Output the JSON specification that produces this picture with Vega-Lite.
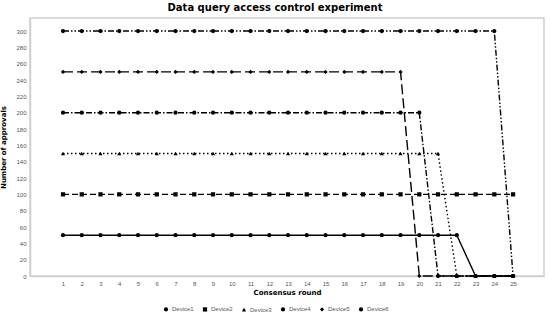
{
  "$schema": "https://vega.github.io/schema/vega-lite/v6.json",
  "autosize": {"type": "none"},
  "padding": {"left": 30, "top": 18, "right": 6, "bottom": 41},
  "width": 514,
  "height": 258,
  "title": {"text": "Data query access control experiment", "font": "DejaVu Sans", "fontSize": 10, "fontWeight": "bold", "color": "#000", "anchor": "middle", "dx": -12, "offset": 5},
  "config": {
    "font": "DejaVu Sans",
    "view": {"stroke": "#cfcfcf", "strokeWidth": 1.5}
  },
  "data": {"values": [
    {"d":"Device1","r":1,"v":50},{"d":"Device1","r":2,"v":50},{"d":"Device1","r":3,"v":50},{"d":"Device1","r":4,"v":50},{"d":"Device1","r":5,"v":50},{"d":"Device1","r":6,"v":50},{"d":"Device1","r":7,"v":50},{"d":"Device1","r":8,"v":50},{"d":"Device1","r":9,"v":50},{"d":"Device1","r":10,"v":50},{"d":"Device1","r":11,"v":50},{"d":"Device1","r":12,"v":50},{"d":"Device1","r":13,"v":50},{"d":"Device1","r":14,"v":50},{"d":"Device1","r":15,"v":50},{"d":"Device1","r":16,"v":50},{"d":"Device1","r":17,"v":50},{"d":"Device1","r":18,"v":50},{"d":"Device1","r":19,"v":50},{"d":"Device1","r":20,"v":50},{"d":"Device1","r":21,"v":50},{"d":"Device1","r":22,"v":50},{"d":"Device1","r":23,"v":0},{"d":"Device1","r":24,"v":0},{"d":"Device1","r":25,"v":0},
    {"d":"Device2","r":1,"v":100},{"d":"Device2","r":2,"v":100},{"d":"Device2","r":3,"v":100},{"d":"Device2","r":4,"v":100},{"d":"Device2","r":5,"v":100},{"d":"Device2","r":6,"v":100},{"d":"Device2","r":7,"v":100},{"d":"Device2","r":8,"v":100},{"d":"Device2","r":9,"v":100},{"d":"Device2","r":10,"v":100},{"d":"Device2","r":11,"v":100},{"d":"Device2","r":12,"v":100},{"d":"Device2","r":13,"v":100},{"d":"Device2","r":14,"v":100},{"d":"Device2","r":15,"v":100},{"d":"Device2","r":16,"v":100},{"d":"Device2","r":17,"v":100},{"d":"Device2","r":18,"v":100},{"d":"Device2","r":19,"v":100},{"d":"Device2","r":20,"v":100},{"d":"Device2","r":21,"v":100},{"d":"Device2","r":22,"v":100},{"d":"Device2","r":23,"v":100},{"d":"Device2","r":24,"v":100},{"d":"Device2","r":25,"v":100},
    {"d":"Device3","r":1,"v":150},{"d":"Device3","r":2,"v":150},{"d":"Device3","r":3,"v":150},{"d":"Device3","r":4,"v":150},{"d":"Device3","r":5,"v":150},{"d":"Device3","r":6,"v":150},{"d":"Device3","r":7,"v":150},{"d":"Device3","r":8,"v":150},{"d":"Device3","r":9,"v":150},{"d":"Device3","r":10,"v":150},{"d":"Device3","r":11,"v":150},{"d":"Device3","r":12,"v":150},{"d":"Device3","r":13,"v":150},{"d":"Device3","r":14,"v":150},{"d":"Device3","r":15,"v":150},{"d":"Device3","r":16,"v":150},{"d":"Device3","r":17,"v":150},{"d":"Device3","r":18,"v":150},{"d":"Device3","r":19,"v":150},{"d":"Device3","r":20,"v":150},{"d":"Device3","r":21,"v":150},{"d":"Device3","r":22,"v":0},{"d":"Device3","r":23,"v":0},{"d":"Device3","r":24,"v":0},{"d":"Device3","r":25,"v":0},
    {"d":"Device4","r":1,"v":200},{"d":"Device4","r":2,"v":200},{"d":"Device4","r":3,"v":200},{"d":"Device4","r":4,"v":200},{"d":"Device4","r":5,"v":200},{"d":"Device4","r":6,"v":200},{"d":"Device4","r":7,"v":200},{"d":"Device4","r":8,"v":200},{"d":"Device4","r":9,"v":200},{"d":"Device4","r":10,"v":200},{"d":"Device4","r":11,"v":200},{"d":"Device4","r":12,"v":200},{"d":"Device4","r":13,"v":200},{"d":"Device4","r":14,"v":200},{"d":"Device4","r":15,"v":200},{"d":"Device4","r":16,"v":200},{"d":"Device4","r":17,"v":200},{"d":"Device4","r":18,"v":200},{"d":"Device4","r":19,"v":200},{"d":"Device4","r":20,"v":200},{"d":"Device4","r":21,"v":0},{"d":"Device4","r":22,"v":0},{"d":"Device4","r":23,"v":0},{"d":"Device4","r":24,"v":0},{"d":"Device4","r":25,"v":0},
    {"d":"Device5","r":1,"v":250},{"d":"Device5","r":2,"v":250},{"d":"Device5","r":3,"v":250},{"d":"Device5","r":4,"v":250},{"d":"Device5","r":5,"v":250},{"d":"Device5","r":6,"v":250},{"d":"Device5","r":7,"v":250},{"d":"Device5","r":8,"v":250},{"d":"Device5","r":9,"v":250},{"d":"Device5","r":10,"v":250},{"d":"Device5","r":11,"v":250},{"d":"Device5","r":12,"v":250},{"d":"Device5","r":13,"v":250},{"d":"Device5","r":14,"v":250},{"d":"Device5","r":15,"v":250},{"d":"Device5","r":16,"v":250},{"d":"Device5","r":17,"v":250},{"d":"Device5","r":18,"v":250},{"d":"Device5","r":19,"v":250},{"d":"Device5","r":20,"v":0},{"d":"Device5","r":21,"v":0},{"d":"Device5","r":22,"v":0},{"d":"Device5","r":23,"v":0},{"d":"Device5","r":24,"v":0},{"d":"Device5","r":25,"v":0},
    {"d":"Device6","r":1,"v":300},{"d":"Device6","r":2,"v":300},{"d":"Device6","r":3,"v":300},{"d":"Device6","r":4,"v":300},{"d":"Device6","r":5,"v":300},{"d":"Device6","r":6,"v":300},{"d":"Device6","r":7,"v":300},{"d":"Device6","r":8,"v":300},{"d":"Device6","r":9,"v":300},{"d":"Device6","r":10,"v":300},{"d":"Device6","r":11,"v":300},{"d":"Device6","r":12,"v":300},{"d":"Device6","r":13,"v":300},{"d":"Device6","r":14,"v":300},{"d":"Device6","r":15,"v":300},{"d":"Device6","r":16,"v":300},{"d":"Device6","r":17,"v":300},{"d":"Device6","r":18,"v":300},{"d":"Device6","r":19,"v":300},{"d":"Device6","r":20,"v":300},{"d":"Device6","r":21,"v":300},{"d":"Device6","r":22,"v":300},{"d":"Device6","r":23,"v":300},{"d":"Device6","r":24,"v":300},{"d":"Device6","r":25,"v":0}
  ]},
  "mark": {"type": "line", "color": "#000", "strokeWidth": 1.4, "point": {"filled": true, "color": "#000", "size": 18}},
  "encoding": {
    "x": {"field": "r", "type": "quantitative",
      "scale": {"domain": [-0.76, 26.65], "nice": false, "zero": false},
      "axis": {"values": [1,2,3,4,5,6,7,8,9,10,11,12,13,14,15,16,17,18,19,20,21,22,23,24,25], "grid": false, "ticks": false, "domainColor": "#cfcfcf", "domainWidth": 1.5, "labelFont": "Liberation Sans", "labelFontSize": 6, "labelColor": "#555", "labelPadding": 4, "title": "Consensus round", "titleFontSize": 7, "titleFontWeight": "bold", "titleColor": "#000", "titlePadding": 2}},
    "y": {"field": "v", "type": "quantitative",
      "scale": {"domain": [0, 316], "nice": false},
      "axis": {"values": [0,20,40,60,80,100,120,140,160,180,200,220,240,260,280,300], "grid": false, "ticks": false, "domainColor": "#cfcfcf", "domainWidth": 1.5, "labelFont": "Liberation Sans", "labelFontSize": 6, "labelColor": "#555", "labelPadding": 4, "title": "Number of approvals", "titleFontSize": 7, "titleFontWeight": "bold", "titleColor": "#000", "titlePadding": 9}},
    "strokeDash": {"field": "d", "type": "nominal",
      "scale": {"domain": ["Device1","Device2","Device3","Device4","Device5","Device6"], "range": [[1,0],[6,3],[1.5,2.5],[6,2,1.5,2],[10,4],[6,2,1.5,2,1.5,2]]},
      "legend": {"title": null, "orient": "none", "legendX": 133, "legendY": 288, "direction": "horizontal", "labelFont": "Liberation Sans", "labelFontSize": 6, "labelColor": "#555", "symbolSize": 18, "symbolStrokeColor": "#000", "symbolFillColor": "#000", "columnPadding": 5, "labelOffset": 3}},
    "shape": {"field": "d", "type": "nominal",
      "scale": {"domain": ["Device1","Device2","Device3","Device4","Device5","Device6"], "range": ["circle","square","triangle-up","circle","diamond","circle"]},
      "legend": {"title": null, "orient": "none", "legendX": 133, "legendY": 288, "direction": "horizontal", "labelFont": "Liberation Sans", "labelFontSize": 6, "labelColor": "#555", "symbolSize": 18, "symbolStrokeColor": "#000", "symbolFillColor": "#000", "columnPadding": 5, "labelOffset": 3}}
  }
}
